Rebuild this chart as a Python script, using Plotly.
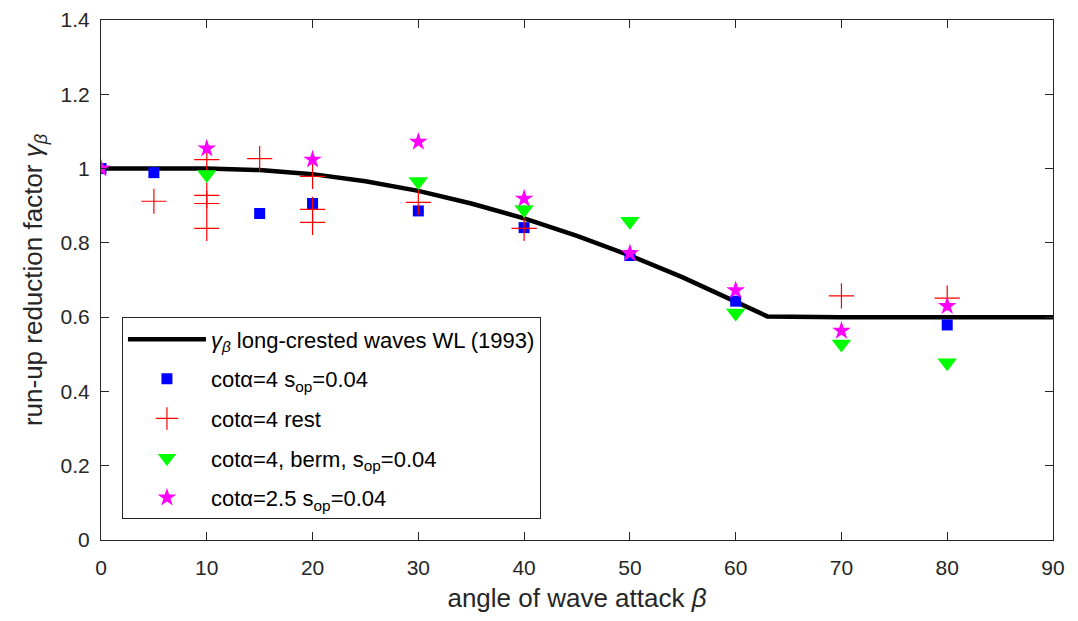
import plotly.graph_objects as go

# WL (1993) curve, long-crested waves
curve_beta = [0, 10, 15, 20, 25, 30, 35, 40, 45, 50, 55, 60, 63, 70, 80, 90]
curve_gamma = [1.0, 1.0, 0.996, 0.985, 0.966, 0.940, 0.906, 0.866, 0.819, 0.766, 0.707, 0.643, 0.602, 0.6, 0.6, 0.6]

# cot(alpha)=4, s_op=0.04
sq_beta = [0, 5, 15, 20, 30, 40, 50, 60, 80]
sq_gamma = [1.0, 0.989, 0.879, 0.906, 0.886, 0.841, 0.766, 0.643, 0.579]

# cot(alpha)=4 rest
pl_beta = [5, 10, 10, 10, 10, 15, 20, 20, 20, 30, 40, 70, 80]
pl_gamma = [0.912, 1.024, 0.928, 0.906, 0.839, 1.027, 0.979, 0.890, 0.855, 0.909, 0.839, 0.657, 0.651]

# cot(alpha)=4, berm, s_op=0.04
tr_beta = [10, 30, 40, 50, 60, 70, 80]
tr_gamma = [0.984, 0.965, 0.890, 0.858, 0.611, 0.528, 0.477]

# cot(alpha)=2.5, s_op=0.04
st_beta = [0, 10, 20, 30, 40, 50, 60, 70, 80]
st_gamma = [1.0, 1.054, 1.024, 1.072, 0.919, 0.772, 0.672, 0.563, 0.630]

x_ticks = [0, 10, 20, 30, 40, 50, 60, 70, 80, 90]
y_ticks = [0, 0.2, 0.4, 0.6, 0.8, 1.0, 1.2, 1.4]
y_tick_text = ["0", "0.2", "0.4", "0.6", "0.8", "1", "1.2", "1.4"]

fig = go.Figure()
fig.add_trace(go.Scatter(
    x=curve_beta, y=curve_gamma, mode="lines",
    line=dict(color="black", width=4.5),
    name="<i>γ</i><sub><i>β</i></sub> long-crested waves WL (1993)",
    legendgroup="a"))
fig.add_trace(go.Scatter(
    x=sq_beta, y=sq_gamma, mode="markers",
    marker=dict(symbol="square", size=11, color="#0000FF"),
    name="cotα=4 s<sub>op</sub>=0.04", legendgroup="b"))
fig.add_trace(go.Scatter(
    x=pl_beta, y=pl_gamma, mode="markers",
    marker=dict(symbol="cross-thin", size=18, color="#FF0000",
                line=dict(color="#FF0000", width=1.2)),
    name="cotα=4 rest", legendgroup="c"))
fig.add_trace(go.Scatter(
    x=tr_beta, y=tr_gamma, mode="markers",
    marker=dict(symbol="triangle-down", size=17, color="#00FF00"),
    name="cotα=4, berm, s<sub>op</sub>=0.04", legendgroup="d"))
fig.add_trace(go.Scatter(
    x=st_beta, y=st_gamma, mode="markers",
    marker=dict(symbol="star", size=14, color="#FF00FF"),
    name="cotα=2.5 s<sub>op</sub>=0.04", legendgroup="e"))

font_family = "Liberation Sans, Arial, sans-serif"
axis_common = dict(
    showgrid=False, zeroline=False, showline=True, linecolor="#262626",
    linewidth=1, mirror="ticks", ticks="inside", ticklen=8,
    tickcolor="#262626", ticklabeloverflow="allow", automargin=False,
    tickfont=dict(size=21, color="#262626", family=font_family),
)
fig.update_layout(
    width=1062, height=605,
    margin=dict(l=93, r=17, t=12, b=73),
    plot_bgcolor="white", paper_bgcolor="white",
    font=dict(family=font_family, color="#262626"),
    xaxis=dict(range=[0, 90], tickvals=x_ticks, ticklabelstandoff=9,
               title=dict(text="angle of wave attack <i>β</i>", font=dict(size=26), standoff=10),
               **axis_common),
    yaxis=dict(range=[0, 1.4], tickvals=y_ticks, ticktext=y_tick_text, ticklabelstandoff=6,
               title=dict(text="run-up reduction factor <i>γ</i><sub><i>β</i></sub>", font=dict(size=26), standoff=10),
               **axis_common),
    legend=dict(x=0.022, y=0.428, xanchor="left", yanchor="top",
                bgcolor="white", bordercolor="#262626", borderwidth=1,
                font=dict(size=22, color="#000000"), tracegroupgap=8,
                itemwidth=78),
    showlegend=True,
)
fig.write_html("out.html")
